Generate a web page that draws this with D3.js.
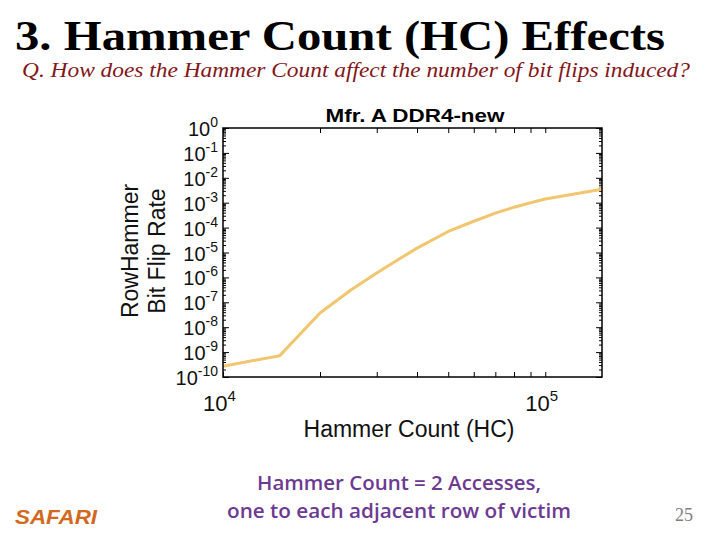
<!DOCTYPE html>
<html>
<head>
<meta charset="utf-8">
<script src="https://cdn.jsdelivr.net/npm/d3@7"></script>
<style>
  body { margin: 0; background: #fff; }
  svg { display: block; }
</style>
</head>
<body>
<svg id="chart" width="720" height="540"></svg>
<script>
// data
var hammerCount = [10000, 15000, 20000, 25000, 30000, 35000, 40000, 50000, 60000, 70000, 80000, 90000, 100000, 150000];
var flipRate = [2.7e-10, 7.2e-10, 3.7e-8, 3.2e-7, 1.5e-6, 5.2e-6, 1.5e-5, 7e-5, 1.8e-4, 3.8e-4, 6.6e-4, 1e-3, 1.4e-3, 3.5e-3];
var yExponents = [0, -1, -2, -3, -4, -5, -6, -7, -8, -9, -10];
var xExponents = [4, 5];

var svg = d3.select("#chart");

// plot box
var boxLeft = 223, boxRight = 602, boxTop = 128, boxBottom = 377;

var x = d3.scaleLog().domain([1e4, 1.5e5]).range([boxLeft, boxRight]);
var y = d3.scaleLog().domain([1e-10, 1]).range([boxBottom, boxTop]);

// slide title
svg.append("text")
  .attr("x", 15).attr("y", 50)
  .attr("font-family", "Liberation Serif")
  .attr("font-weight", "bold")
  .attr("font-size", 42)
  .attr("textLength", 650)
  .attr("lengthAdjust", "spacingAndGlyphs")
  .text("3. Hammer Count (HC) Effects");

svg.append("text")
  .attr("x", 22).attr("y", 77)
  .attr("font-family", "Liberation Serif")
  .attr("font-style", "italic")
  .attr("font-size", 22)
  .attr("fill", "#84161a")
  .attr("textLength", 668)
  .attr("lengthAdjust", "spacingAndGlyphs")
  .text("Q. How does the Hammer Count affect the number of bit flips induced?");

// chart title
svg.append("text")
  .attr("x", 415).attr("y", 122)
  .attr("text-anchor", "middle")
  .attr("font-family", "Liberation Sans")
  .attr("font-weight", "bold")
  .attr("font-size", 18)
  .attr("textLength", 179).attr("lengthAdjust", "spacingAndGlyphs")
  .text("Mfr. A  DDR4-new");

// minor ticks
var yMinor = [];
for (var e = -10; e < 0; e++) {
  for (var m = 2; m < 10; m++) yMinor.push(m * Math.pow(10, e));
}
var xMinor = [];
for (var m = 2; m < 10; m++) xMinor.push(m * 1e4);

function tickGroup(axis, tx, ty) {
  var g = svg.append("g")
    .attr("transform", "translate(" + tx + "," + ty + ")")
    .call(axis);
  g.select(".domain").remove();
  g.selectAll(".tick line").attr("stroke", "#000").attr("stroke-width", 1);
  g.selectAll(".tick text").remove();
  return g;
}

var yMajorVals = yExponents.map(function(e) { return Math.pow(10, e); });
tickGroup(d3.axisRight(y).tickValues(yMajorVals).tickSize(6), boxLeft, 0);
tickGroup(d3.axisLeft(y).tickValues(yMajorVals).tickSize(6), boxRight, 0);
tickGroup(d3.axisRight(y).tickValues(yMinor).tickSize(3), boxLeft, 0);
tickGroup(d3.axisLeft(y).tickValues(yMinor).tickSize(3), boxRight, 0);

var xMajorVals = xExponents.map(function(e) { return Math.pow(10, e); });
tickGroup(d3.axisTop(x).tickValues(xMajorVals.concat(xMinor)).tickSize(5), 0, boxBottom);
tickGroup(d3.axisBottom(x).tickValues(xMajorVals.concat(xMinor)).tickSize(5), 0, boxTop);

// line
var line = d3.line()
  .x(function(d, i) { return x(hammerCount[i]); })
  .y(function(d) { return y(d); });

svg.append("path")
  .datum(flipRate)
  .attr("d", line)
  .attr("fill", "none")
  .attr("stroke", "#f1c66e")
  .attr("stroke-width", 3)
  .attr("stroke-linejoin", "round");

// frame
svg.append("rect")
  .attr("x", boxLeft).attr("y", boxTop)
  .attr("width", boxRight - boxLeft).attr("height", boxBottom - boxTop)
  .attr("fill", "none")
  .attr("stroke", "#000")
  .attr("stroke-width", 1.5);

// y tick labels with superscripts
var yLab = svg.append("g")
  .attr("font-family", "Liberation Sans")
  .attr("font-size", 20)
  .attr("fill", "#111")
  .attr("text-anchor", "end");
yLab.selectAll("text")
  .data(yExponents)
  .enter().append("text")
  .attr("x", 218)
  .attr("y", function(d) { return y(Math.pow(10, d)) + 8; })
  .each(function(d) {
    var t = d3.select(this);
    t.append("tspan").text("10");
    t.append("tspan").attr("font-size", 14).attr("dy", -9).text(d);
  });

// x tick labels
var xLab = svg.append("g")
  .attr("font-family", "Liberation Sans")
  .attr("font-size", 22)
  .attr("fill", "#111");
xLab.selectAll("text")
  .data(xExponents)
  .enter().append("text")
  .attr("x", function(d) { return x(Math.pow(10, d)) - 20; })
  .attr("y", 411)
  .each(function(d) {
    var t = d3.select(this);
    t.append("tspan").text("10");
    t.append("tspan").attr("font-size", 15).attr("dy", -10).text(d);
  });

// axis titles
svg.append("text")
  .attr("x", 409).attr("y", 437)
  .attr("text-anchor", "middle")
  .attr("font-family", "Liberation Sans")
  .attr("font-size", 23)
  .attr("fill", "#111")
  .text("Hammer Count (HC)");

var yTitle = svg.append("g")
  .attr("font-family", "Liberation Sans")
  .attr("font-size", 23)
  .attr("fill", "#111")
  .attr("text-anchor", "middle");
yTitle.append("text")
  .attr("transform", "translate(138,251) rotate(-90)")
  .text("RowHammer");
yTitle.append("text")
  .attr("transform", "translate(165,251) rotate(-90)")
  .text("Bit Flip Rate");

// footnote
var note = svg.append("g")
  .attr("font-family", "Open Sans")
  .attr("font-weight", 600)
  .attr("font-size", 19)
  .attr("fill", "#6d3a92")
  .attr("text-anchor", "middle");
note.append("text").attr("x", 399).attr("y", 490)
  .attr("textLength", 284).attr("lengthAdjust", "spacingAndGlyphs")
  .text("Hammer Count = 2 Accesses,");
note.append("text").attr("x", 399).attr("y", 518)
  .attr("textLength", 344).attr("lengthAdjust", "spacingAndGlyphs")
  .text("one to each adjacent row of victim");

// logo and page number
svg.append("text")
  .attr("x", 15).attr("y", 524)
  .attr("font-family", "Liberation Sans")
  .attr("font-weight", "bold")
  .attr("font-style", "italic")
  .attr("font-size", 20)
  .attr("fill", "#d2691e")
  .attr("textLength", 82).attr("lengthAdjust", "spacingAndGlyphs")
  .text("SAFARI");

svg.append("text")
  .attr("x", 684).attr("y", 521)
  .attr("text-anchor", "middle")
  .attr("font-family", "Liberation Serif")
  .attr("font-size", 18)
  .attr("fill", "#7f7f7f")
  .text("25");
</script>
</body>
</html>
